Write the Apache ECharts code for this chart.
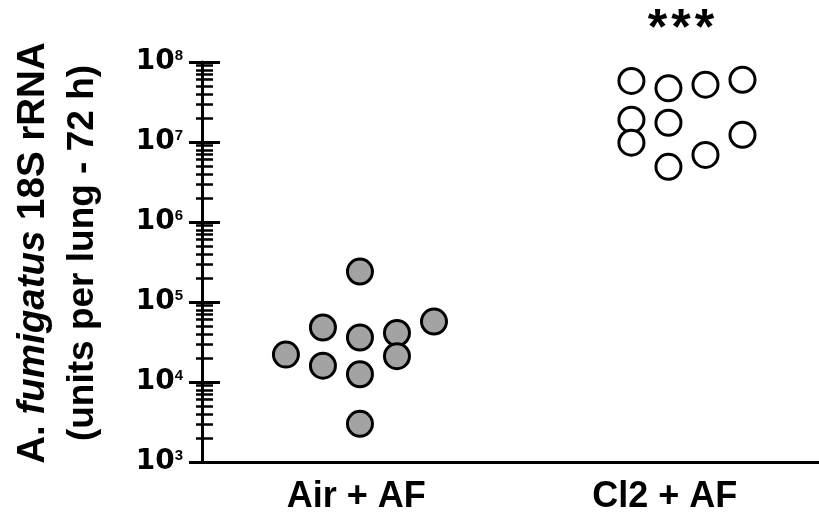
<!DOCTYPE html>
<html>
<head>
<meta charset="utf-8">
<script src="https://cdn.jsdelivr.net/npm/echarts@6/dist/echarts.min.js"></script>
<style>
  html, body { margin: 0; padding: 0; background: #ffffff; }
  #chart { width: 819px; height: 523px; }
</style>
</head>
<body>
<div id="chart"></div>
<script>
// Groups on the x axis
var groups = ['Air + AF', 'Cl2 + AF'];

// Per-lung values (units per lung, 72 h) for each group
var airValues = [2.4e5, 4.8e4, 3.6e4, 4.1e4, 5.7e4, 2.2e4, 1.6e4, 2.1e4, 1.25e4, 3.0e3];
var cl2Values = [5.8e7, 4.7e7, 5.2e7, 6.0e7, 1.9e7, 1.74e7, 9.8e6, 1.23e7, 6.9e6, 4.9e6];

// Scatter column (slot) of each point inside its group, so overlapping points sit side by side
var airSlots = [0, -1, 0, 1, 2, -2, -1, 1, 0, 0];
var cl2Slots = [-1, 0, 1, 2, -1, 0, -1, 2, 1, 0];

// Y axis range and tick values
var yMin = 1e3;
var yMax = 1e8;
var majorTicks = [1e3, 1e4, 1e5, 1e6, 1e7, 1e8];
var minorTicks = [];
for (var e = 3; e < 8; e++) {
  for (var k = 2; k <= 9; k++) minorTicks.push(k * Math.pow(10, e));
}

var SLOT_WIDTH = 0.12;
var SLOT_SHIFT = 0.012;
function toPoints(values, slots, groupIndex) {
  return values.map(function (v, i) {
    return [groupIndex + 0.5 + SLOT_SHIFT + slots[i] * SLOT_WIDTH, v];
  });
}

var FONT = '"Liberation Sans", Arial, Helvetica, sans-serif';
var chart = echarts.init(document.getElementById('chart'), null, { renderer: 'canvas' });

function tickAxis(values, length, width, offset) {
  return {
    type: 'log', logBase: 10, min: yMin, max: yMax, position: 'left', offset: offset,
    axisLine: { show: false }, axisLabel: { show: false }, splitLine: { show: false },
    axisTick: { show: true, inside: false, length: length, customValues: values,
      lineStyle: { color: '#000', width: width } }
  };
}

var titleLine = { fontFamily: FONT, fontWeight: 'bold', fontSize: 38.5, color: '#000', lineHeight: 50 };

chart.setOption({
  animation: false,
  backgroundColor: '#ffffff',
  grid: { left: 202, right: -3, top: 62, bottom: 61, containLabel: false },
  xAxis: [
    {
      type: 'category', data: groups, boundaryGap: true,
      axisLine: { onZero: false, lineStyle: { color: '#000', width: 3 } },
      axisTick: { alignWithLabel: true, length: 12, lineStyle: { color: '#000', width: 3 } },
      axisLabel: { margin: 17, color: '#000', fontFamily: FONT, fontWeight: 'bold', fontSize: 36 },
      splitLine: { show: false }
    },
    { type: 'value', min: 0, max: 2, show: false }
  ],
  yAxis: [
    {
      type: 'log', logBase: 10, min: yMin, max: yMax, position: 'left',
      axisLine: { show: true, lineStyle: { color: '#000', width: 3 } },
      axisTick: { show: false },
      splitLine: { show: false },
      axisLabel: {
        margin: 19,
        formatter: function (v) {
          var exp = Math.round(Math.log(v) / Math.LN10);
          return '{b|10}{s|' + exp + '}';
        },
        rich: {
          b: { fontFamily: '"DejaVu Sans", sans-serif', fontWeight: 'bold', fontSize: 28, color: '#000',
               lineHeight: 28, verticalAlign: 'bottom', padding: [6, 0, 0, 0] },
          s: { fontFamily: FONT, fontWeight: 'bold', fontSize: 15, color: '#000', verticalAlign: 'top', lineHeight: 15 }
        }
      },
      name: '{t|A. }{i|fumigatus}{t| 18S rRNA}\n(units per lung - 72 h)',
      nameLocation: 'middle',
      nameRotate: 90,
      nameGap: 94,
      nameTextStyle: {
        fontFamily: FONT, fontWeight: 'bold', fontSize: 37, color: '#000', lineHeight: 50,
        padding: [0, 0, 0, 18],
        rich: {
          t: titleLine,
          i: Object.assign({}, titleLine, { fontStyle: 'italic' })
        }
      }
    },
    tickAxis(majorTicks, 31, 3, -18),
    tickAxis(minorTicks, 17, 2.5, -11)
  ],
  series: [
    {
      name: groups[0], type: 'scatter', xAxisIndex: 1, yAxisIndex: 0,
      data: toPoints(airValues, airSlots, 0),
      symbol: 'circle', symbolSize: 25,
      itemStyle: { color: '#a3a3a3', borderColor: '#000', borderWidth: 3, opacity: 1 }
    },
    {
      name: groups[1], type: 'scatter', xAxisIndex: 1, yAxisIndex: 0,
      data: toPoints(cl2Values, cl2Slots, 1),
      symbol: 'circle', symbolSize: 25,
      itemStyle: { color: '#ffffff', borderColor: '#000', borderWidth: 3, opacity: 1 }
    }
  ],
  graphic: [
    {
      type: 'text', x: 681, y: 30,
      style: {
        text: '{s|*}{s|*}{s|*}',
        textAlign: 'center', textVerticalAlign: 'middle',
        rich: { s: { fontFamily: FONT, fontWeight: 'bold', fontSize: 50, fill: '#000', padding: [0, 2, 0, 2] } }
      }
    }
  ]
});
</script>
</body>
</html>
